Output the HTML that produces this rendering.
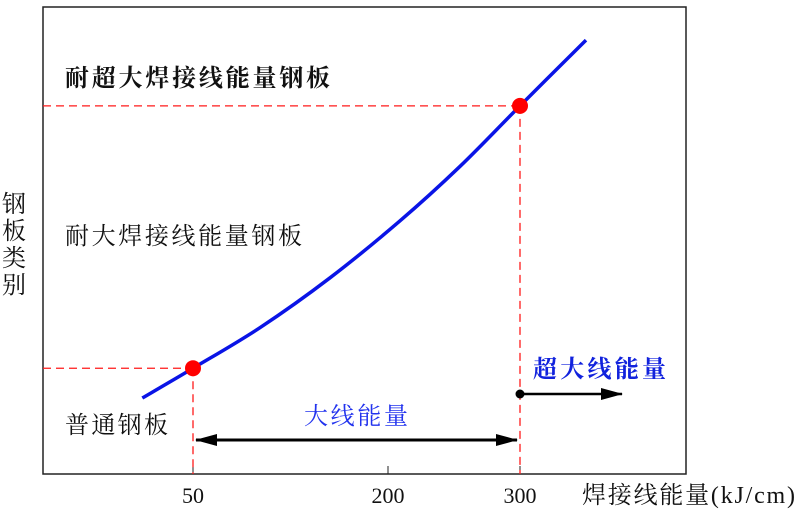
<!DOCTYPE html>
<html><head><meta charset="utf-8"><style>
body{margin:0;background:#fff;width:800px;height:516px;overflow:hidden}
svg{font-family:"Liberation Serif","Noto Serif CJK SC",serif}
.cj{font-family:"Noto Serif CJK SC","Noto Sans CJK SC",serif}
</style></head><body>
<svg id="chart" width="800" height="516" xmlns="http://www.w3.org/2000/svg">
<defs>
<marker id="ah" markerWidth="22" markerHeight="12" refX="21" refY="6" orient="auto-start-reverse" markerUnits="userSpaceOnUse" viewBox="0 0 22 12"><path d="M0,0 L22,6 L0,12 z" fill="#000"/></marker>
</defs>
<rect x="43" y="7" width="643" height="467" fill="none" stroke="#222" stroke-width="1.5"/>
<g id="marks"></g>
<text class="cj" x="65" y="86" font-size="24" font-weight="bold" fill="#111" textLength="265">耐超大焊接线能量钢板</text>
<text class="cj" x="65" y="244" font-size="24" fill="#111" textLength="237">耐大焊接线能量钢板</text>
<text class="cj" x="65" y="433" font-size="24" fill="#111" textLength="103">普通钢板</text>
<text class="cj" x="304" y="424" font-size="24" fill="#2233ee" textLength="104">大线能量</text>
<text class="cj" x="533" y="377" font-size="24" font-weight="bold" fill="#1122dd" textLength="133">超大线能量</text>
<text class="cj" font-size="24" fill="#111"><tspan x="2" y="212">钢</tspan><tspan x="2" y="239">板</tspan><tspan x="2" y="266">类</tspan><tspan x="2" y="293">别</tspan></text>
<text x="582" y="503" font-size="24" fill="#111" textLength="213"><tspan class="cj">焊接线能量</tspan>(kJ/cm)</text>
<line x1="196" y1="440" x2="517" y2="440" stroke="#000" stroke-width="3" marker-start="url(#ah)" marker-end="url(#ah)"/>
<circle cx="520" cy="394" r="4.5" fill="#000"/>
<line x1="520" y1="394" x2="622" y2="394" stroke="#000" stroke-width="2.5" marker-end="url(#ah)"/>
</svg>
<script>
const tickValues=[50,200,300];
const tickLabels=["50","200","300"];
const curveX=[11,50,101.5,155.4,209,254.5,300,350];
const curveY=[16.3,22.7,31.4,42.1,54.3,66.0,79.0,93.1];
const keyX=[50,300];
const keyY=[22.7,79.0];
const tickPx=[193,388,520];
function xs(v){
  let i=0;
  if(v>tickValues[1])i=1;
  const a=tickValues[i],b=tickValues[i+1],pa=tickPx[i],pb=tickPx[i+1];
  return pa+(v-a)*(pb-pa)/(b-a);
}
function ys(v){return 474-v*4.66;}
const NS="http://www.w3.org/2000/svg";
const g=document.getElementById('marks');
function mk(t,attrs){const e=document.createElementNS(NS,t);for(const k in attrs)e.setAttribute(k,attrs[k]);g.appendChild(e);return e;}
tickValues.forEach((v,i)=>{
  const t=mk('line',{x1:xs(v),x2:xs(v),y1:474,y2:466,stroke:'#222','stroke-width':1});
  
  
  const l=mk('text',{x:xs(v),y:503,'font-size':22,'text-anchor':'middle',fill:'#111'});
  l.textContent=tickLabels[i];
  
  
});
keyX.forEach((v,i)=>{
  const h=mk('line',{x1:43,x2:xs(v),y1:ys(keyY[i]),y2:ys(keyY[i]),stroke:'#ff1a1a','stroke-width':1.3,'stroke-dasharray':'8,5'});
  
  
  const vl=mk('line',{x1:xs(v),x2:xs(v),y1:ys(keyY[i]),y2:474,stroke:'#ff1a1a','stroke-width':1.3,'stroke-dasharray':'8,5'});
  
  
});
const pts=curveX.map((v,i)=>[xs(v),ys(curveY[i])]);
let d='M'+pts[0][0]+','+pts[0][1];
for(let i=0;i<pts.length-1;i++){
  const p0=pts[Math.max(0,i-1)],p1=pts[i],p2=pts[i+1],p3=pts[Math.min(pts.length-1,i+2)];
  const c1=[p1[0]+(p2[0]-p0[0])/6,p1[1]+(p2[1]-p0[1])/6];
  const c2=[p2[0]-(p3[0]-p1[0])/6,p2[1]-(p3[1]-p1[1])/6];
  d+='C'+c1.join(',')+' '+c2.join(',')+' '+p2.join(',');
}
const p=mk('path',{d:d,fill:'none',stroke:'#0a14e6','stroke-width':3.5,'stroke-linejoin':'round'});


keyX.forEach((v,i)=>{
  const c=mk('circle',{cx:xs(v),cy:ys(keyY[i]),r:8,fill:'#f00'});
  
  
});
</script>
</body></html>
